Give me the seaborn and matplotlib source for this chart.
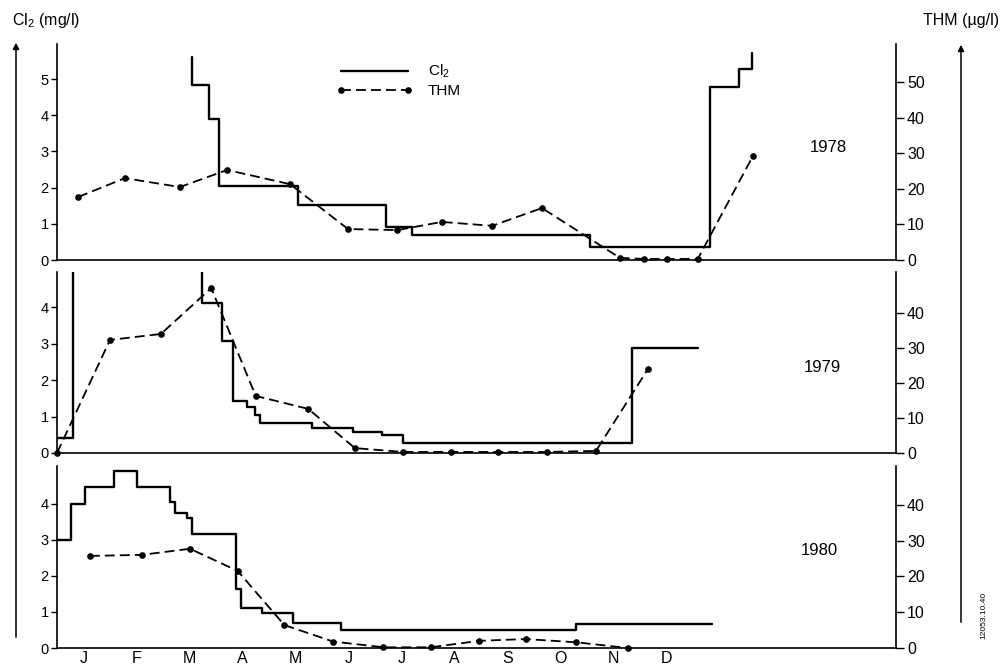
import matplotlib
matplotlib.use("Agg")
import matplotlib.pyplot as plt
import seaborn as sns
import pandas as pd
from matplotlib.patches import FancyArrowPatch

# ---------------- data (x in months from 1 January) ----------------
months = ["J", "F", "M", "A", "M", "J", "J", "A", "S", "O", "N", "D"]
years = ["1978", "1979", "1980"]

# Cl2 (mg/l) step series: change times and new levels
cl2_1978_t = [2.55, 2.55, 2.87, 3.06, 4.55, 6.21, 6.70, 10.06, 12.32, 12.87, 13.11]
cl2_1978_v = [5.60, 4.85, 3.90, 2.05, 1.52, 0.91, 0.69, 0.36, 4.77, 5.29, 5.73]

cl2_1979_t = [0.00, 0.30, 2.74, 3.11, 3.32, 3.58, 3.74, 3.83, 4.81, 5.58, 6.13, 6.53, 10.85, 12.09]
cl2_1979_v = [0.42, 6.00, 4.10, 3.07, 1.42, 1.26, 1.04, 0.82, 0.68, 0.58, 0.50, 0.27, 2.88, 2.88]

cl2_1980_t = [0.00, 0.26, 0.53, 1.08, 1.50, 2.13, 2.23, 2.45, 2.55, 3.38, 3.48, 3.86, 4.46, 5.36, 9.79, 12.35]
cl2_1980_v = [2.98, 4.00, 4.45, 4.89, 4.45, 4.04, 3.74, 3.61, 3.16, 1.64, 1.11, 0.98, 0.69, 0.51, 0.67, 0.67]

# THM (ug/l) sampling points
thm_1978_t = [0.40, 1.28, 2.32, 3.21, 4.40, 5.49, 6.42, 7.26, 8.21, 9.15, 10.62, 11.08, 11.51, 12.09, 13.13]
thm_1978_v = [17.7, 23.0, 20.5, 25.3, 21.3, 8.7, 8.4, 10.7, 9.6, 14.6, 0.6, 0.3, 0.3, 0.3, 29.2]

thm_1979_t = [0.00, 1.00, 1.96, 2.91, 3.75, 4.74, 5.62, 6.53, 7.43, 8.32, 9.25, 10.17, 11.15]
thm_1979_v = [0.0, 32.3, 34.0, 47.1, 16.3, 12.6, 1.4, 0.3, 0.3, 0.3, 0.3, 0.6, 24.0]

thm_1980_t = [0.62, 1.60, 2.51, 3.41, 4.29, 5.21, 6.16, 7.05, 7.97, 8.84, 9.79, 10.78]
thm_1980_v = [25.7, 26.0, 27.7, 21.5, 6.4, 1.8, 0.2, 0.2, 2.0, 2.5, 1.6, 0.0]

left_ticks = [[0, 1, 2, 3, 4, 5], [0, 1, 2, 3, 4], [0, 1, 2, 3, 4]]
right_ticks = [[0, 10, 20, 30, 40, 50], [0, 10, 20, 30, 40], [0, 10, 20, 30, 40]]

# ---------------- style ----------------
sns.set_theme(style="ticks")
plt.rcParams["font.family"] = ["Liberation Sans", "DejaVu Sans"]
plt.rcParams["mathtext.fontset"] = "custom"
plt.rcParams["mathtext.rm"] = "Liberation Sans"
plt.rcParams["mathtext.it"] = "Liberation Sans"
plt.rcParams["axes.linewidth"] = 1.2
plt.rcParams["axes.edgecolor"] = "black"
plt.rcParams["text.color"] = "black"
plt.rcParams["axes.labelcolor"] = "black"
plt.rcParams["xtick.color"] = "black"
plt.rcParams["ytick.color"] = "black"
plt.rcParams["xtick.labelcolor"] = "black"
plt.rcParams["ytick.labelcolor"] = "black"

W, H = 1001, 670
fig = plt.figure(figsize=(W / 100, H / 100), dpi=100)
fig.patch.set_facecolor("white")

X0, X1 = 57, 896
XMAX = (X1 - X0) / 53.0

layout = [  # top px, bottom px, left ylim top, right ylim top, year label pos
    (44, 260, 5.97, 60.7, (0.919, 0.523)),
    (272, 453, 4.96, 51.7, (0.912, 0.47)),
    (466, 648, 5.04, 50.8, (0.909, 0.538)),
]
cl2_t = [cl2_1978_t, cl2_1979_t, cl2_1980_t]
cl2_v = [cl2_1978_v, cl2_1979_v, cl2_1980_v]
thm_t = [thm_1978_t, thm_1979_t, thm_1980_t]
thm_v = [thm_1978_v, thm_1979_v, thm_1980_v]

handles = []
for i, (top, bot, yl, yr, ypos) in enumerate(layout):
    ax = fig.add_axes([X0 / W, 1 - bot / H, (X1 - X0) / W, (bot - top) / H])
    ax.set_facecolor("none")
    ax2 = ax.twinx()
    ax2.set_facecolor("none")

    dcl = pd.DataFrame({"t": cl2_t[i], "v": cl2_v[i]})
    dth = pd.DataFrame({"t": thm_t[i], "v": thm_v[i]})

    sns.lineplot(data=dcl, x="t", y="v", ax=ax, estimator=None, sort=False,
                 drawstyle="steps-post", color="black", linewidth=1.7, label="Cl$_2$",
                 legend=False)
    sns.lineplot(data=dth, x="t", y="v", ax=ax2, estimator=None, sort=False,
                 color="black", linewidth=1.3, linestyle=(0, (5.5, 2.8)),
                 marker="o", markersize=4.8, markeredgewidth=0, label="THM",
                 legend=False, clip_on=False)

    ax.set_xlim(0, XMAX)
    ax.set_ylim(0, yl)
    ax2.set_ylim(0, yr)
    ax.set_xlabel("")
    ax.set_ylabel("")
    ax2.set_ylabel("")

    for s in ["top", "right"]:
        ax.spines[s].set_visible(False)
    for s in ["top", "left", "bottom"]:
        ax2.spines[s].set_visible(False)
    ax2.spines["right"].set_linewidth(1.2)

    ax.set_yticks(left_ticks[i])
    ax.set_yticklabels([str(v) for v in left_ticks[i]])
    ax2.set_yticks(right_ticks[i])
    ax2.set_yticklabels([str(v) for v in right_ticks[i]])
    ax.tick_params(axis="y", direction="out", length=4, width=1.0, labelsize=10.5, pad=2)
    ax2.tick_params(axis="y", direction="out", length=6, width=1.0, labelsize=11.5, pad=2)

    ax.set_xticks(list(range(0, 13)))
    ax.tick_params(axis="x", which="major", direction="out", length=6, width=1.0,
                   labelbottom=False)
    if i == 2:
        ax.set_xticks([m + 0.5 for m in range(12)], minor=True)
        ax.set_xticklabels(months, minor=True)
        ax.tick_params(axis="x", which="minor", length=0, labelsize=11.5, pad=2)
    ax2.set_xticks([])

    ax.text(ypos[0], ypos[1], years[i], transform=ax.transAxes, ha="center",
            va="center", fontsize=12, color="black")

    if i == 0:
        handles = [ax.get_lines()[0], ax2.get_lines()[0]]

fig.legend(handles=handles, labels=["Cl$_2$", "THM"], loc="upper left",
           bbox_to_anchor=(336 / W, 1 - 63 / H), frameon=False, numpoints=2,
           handlelength=5.0, handletextpad=1.0, labelspacing=0.25, fontsize=11,
           borderpad=0, borderaxespad=0, labelcolor="black")

fig.text(12 / W, 1 - 20 / H, "Cl$_2$ (mg/l)", ha="left", va="center", fontsize=11.5,
         color="black")
fig.text(999 / W, 1 - 20 / H, "THM (\u00b5g/l)", ha="right", va="center", fontsize=11.5,
         color="black")

for xp, y_bot, y_top in [(16, 640, 40), (961, 625, 42)]:
    fig.add_artist(FancyArrowPatch((xp / W, 1 - y_bot / H), (xp / W, 1 - y_top / H),
                                   transform=fig.transFigure, arrowstyle="-|>",
                                   mutation_scale=9, lw=1.1, color="black"))

fig.text(984 / W, 1 - 615 / H, "12053.10.40", rotation=90, ha="center", va="center",
         fontsize=6, color="black")

fig.savefig("out.png", dpi=100, facecolor="white")
